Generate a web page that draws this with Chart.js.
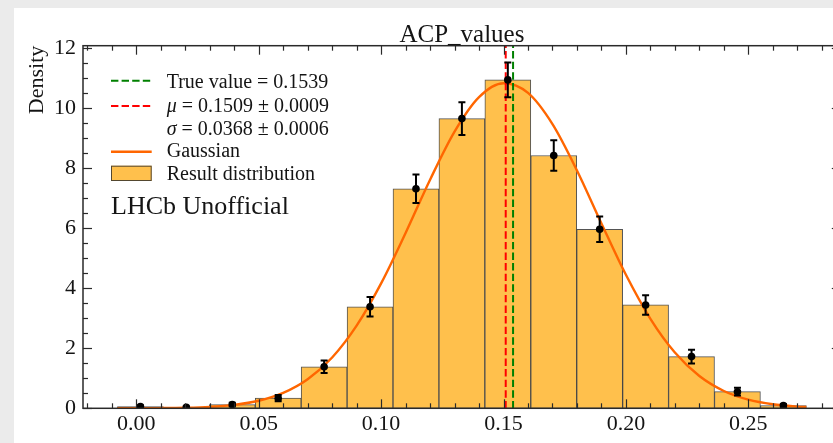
<!DOCTYPE html>
<html><head><meta charset="utf-8">
<script src="https://cdn.jsdelivr.net/npm/chart.js@4.4.1/dist/chart.umd.min.js"></script>
<style>
html,body{margin:0;padding:0;background:#ebebeb;overflow:hidden;width:833px;height:443px;}
#wrap{position:absolute;left:14px;top:8px;width:846px;height:435px;background:#fff;}
canvas{display:block;}
</style></head><body>
<div id="wrap"><canvas id="c" width="846" height="435"></canvas></div>
<script>
// ---- data ----
const binCenters = [0.00168, 0.02044, 0.03920, 0.05796, 0.07672, 0.09548, 0.11424, 0.13300, 0.15176, 0.17052, 0.18928, 0.20804, 0.22680, 0.24556, 0.26432];
const density    = [0.0615, 0.031, 0.123, 0.338, 1.385, 3.385, 7.32, 9.66, 10.95, 8.43, 5.97, 3.446, 1.723, 0.554, 0.092];
const densityErr = [0.0435, 0.031, 0.062, 0.102, 0.206, 0.323, 0.475, 0.545, 0.58, 0.509, 0.429, 0.326, 0.23, 0.13, 0.053];
const curveX = [-0.0077, 0.00, 0.01, 0.02, 0.03, 0.04, 0.05, 0.06, 0.07, 0.08, 0.09, 0.10, 0.11, 0.12, 0.13, 0.14, 0.15, 0.16, 0.17, 0.18, 0.19, 0.20, 0.21, 0.22, 0.23, 0.24, 0.25, 0.26, 0.27, 0.2737];
const curveY = [0.0010, 0.0024, 0.0071, 0.0194, 0.0491, 0.1156, 0.2528, 0.5129, 0.9673, 1.6943, 2.7566, 4.165, 5.846, 7.621, 9.226, 10.376, 10.838, 10.515, 9.475, 7.931, 6.165, 4.451, 2.985, 1.860, 1.076, 0.578, 0.2886, 0.1338, 0.0576, 0.0414];
const trueValue = 0.1539;
const muValue = 0.1509, muErr = 0.0009;
const sigmaValue = 0.0368, sigmaErr = 0.0006;
const xTicks = [0, 0.05, 0.10, 0.15, 0.20, 0.25];
const yTicks = [0, 2, 4, 6, 8, 10, 12];
const xLimits = [-0.02177, 0.28777];
const yLimits = [0, 12.09];
const chartTitle = 'ACP_values';
const yTitle = 'Density';
const legendTexts = ['True value = ' + trueValue.toFixed(4),
  ' = ' + muValue.toFixed(4) + ' \u00b1 ' + muErr.toFixed(4),
  ' = ' + sigmaValue.toFixed(4) + ' \u00b1 ' + sigmaErr.toFixed(4),
  'Gaussian', 'Result distribution'];
const watermark = 'LHCb Unofficial';

const SERIF = '"Liberation Serif", "DejaVu Serif", serif';
const BAR_FILL = '#ffc04c', BAR_EDGE = 'rgba(40,40,40,0.8)', CURVE = '#ff6600';
const TXT = '#141414', AX = '#2a2a2a';

const overlay = {
  id: 'overlay',
  afterDatasetsDraw(chart) {
    const {ctx, scales: {x, y}, chartArea: a} = chart;
    ctx.save();
    ctx.beginPath(); ctx.rect(a.left, a.top, a.right - a.left, a.bottom - a.top); ctx.clip();
    ctx.strokeStyle = '#000'; ctx.lineWidth = 2;
    binCenters.forEach((c, i) => {
      const px = x.getPixelForValue(c);
      const y1 = y.getPixelForValue(density[i] - densityErr[i]);
      const y2 = y.getPixelForValue(density[i] + densityErr[i]);
      ctx.beginPath();
      ctx.moveTo(px, y1); ctx.lineTo(px, y2);
      ctx.moveTo(px - 3.5, y1); ctx.lineTo(px + 3.5, y1);
      ctx.moveTo(px - 3.5, y2); ctx.lineTo(px + 3.5, y2);
      ctx.stroke();
    });
    ctx.restore();
  },
  afterDraw(chart) {
    const {ctx, scales: {x, y}, chartArea: a} = chart;
    ctx.save();
    // ticks (inward, all four sides)
    ctx.strokeStyle = AX; ctx.lineWidth = 1.2;
    const seg = (x1, y1, x2, y2) => { ctx.beginPath(); ctx.moveTo(x1, y1); ctx.lineTo(x2, y2); ctx.stroke(); };
    const xt = (v, len) => { const p = Math.round(x.getPixelForValue(v)) + 0.5; if (p < a.left || p > a.right) return; seg(p, a.bottom, p, a.bottom - len); seg(p, a.top, p, a.top + len); };
    const yt = (v, len) => { const p = Math.round(y.getPixelForValue(v)) + 0.5; if (p < a.top - 0.5 || p > a.bottom + 0.5) return; seg(a.left, p, a.left + len, p); seg(a.right, p, a.right - len, p); };
    for (let k = Math.ceil(xLimits[0] * 100); k <= Math.floor(xLimits[1] * 100); k++) {
      if (k % 5 !== 0) xt(k / 100, 5);
    }
    xTicks.forEach(v => xt(v, 9));
    for (let k = 0; k <= Math.floor(yLimits[1] * 2); k++) {
      if (k % 4 !== 0) yt(k / 2, 5);
    }
    yTicks.forEach(v => yt(v, 9));
    // frame
    ctx.lineWidth = 1.5; ctx.strokeStyle = AX;
    ctx.strokeRect(a.left, a.top, a.right - a.left, a.bottom - a.top);
    // title
    ctx.fillStyle = TXT; ctx.textAlign = 'center'; ctx.textBaseline = 'alphabetic';
    ctx.font = '25px ' + SERIF;
    ctx.fillText(chartTitle, (a.left + a.right) / 2, 33.7);
    // legend
    const hx0 = 97, hx1 = 137.7, tx = 152.7;
    ctx.lineWidth = 2;
    ctx.setLineDash([7.4, 3.2]);
    ctx.strokeStyle = 'green'; seg(hx0, 72.7, hx1, 72.7);
    ctx.strokeStyle = 'red'; seg(hx0, 98, hx1, 98);
    ctx.setLineDash([]);
    ctx.strokeStyle = CURVE; ctx.lineWidth = 2.4; seg(hx0, 143.7, hx1, 143.7);
    ctx.fillStyle = BAR_FILL; ctx.fillRect(hx0, 157.7, hx1 - hx0, 15.3);
    ctx.strokeStyle = BAR_EDGE; ctx.lineWidth = 1; ctx.strokeRect(hx0 + 0.5, 157.7 + 0.5, hx1 - hx0 - 1, 15.3 - 1);
    ctx.fillStyle = TXT; ctx.textAlign = 'left';
    ctx.font = '20px ' + SERIF;
    ctx.fillText(legendTexts[0], tx, 80.3);
    ctx.font = 'italic 20px ' + SERIF;
    ctx.fillText('\u03bc', tx, 103.7);
    let w = ctx.measureText('\u03bc').width;
    ctx.font = '20px ' + SERIF;
    ctx.fillText(legendTexts[1], tx + w, 103.7);
    ctx.font = 'italic 20px ' + SERIF;
    ctx.fillText('\u03c3', tx, 127);
    w = ctx.measureText('\u03c3').width;
    ctx.font = '20px ' + SERIF;
    ctx.fillText(legendTexts[2], tx + w, 127);
    ctx.fillText(legendTexts[3], tx, 149.3);
    ctx.fillText(legendTexts[4], tx, 172);
    ctx.font = '26px ' + SERIF;
    ctx.fillText(watermark, 97, 205.8);
    ctx.restore();
  }
};

new Chart(document.getElementById('c'), {
  type: 'bar',
  data: {
    datasets: [
      { type: 'line', label: 'points', data: binCenters.map((c, i) => ({x: c, y: density[i]})),
        showLine: false, pointRadius: 3.8, pointBackgroundColor: '#000', pointBorderWidth: 0, order: 0 },
      { type: 'line', label: 'True value', data: [{x: trueValue, y: yLimits[0]}, {x: trueValue, y: yLimits[1]}],
        borderColor: 'green', borderWidth: 2, borderDash: [7.4, 3.2], pointRadius: 0, order: 1 },
      { type: 'line', label: 'mu', data: [{x: muValue, y: yLimits[0]}, {x: muValue, y: yLimits[1]}],
        borderColor: 'red', borderWidth: 2, borderDash: [7.4, 3.2], pointRadius: 0, order: 1 },
      { type: 'line', label: 'Gaussian', data: curveX.map((v, i) => ({x: v, y: curveY[i]})),
        borderColor: CURVE, borderWidth: 2.4, pointRadius: 0, cubicInterpolationMode: 'monotone', order: 2 },
      { type: 'bar', label: 'Result distribution', data: binCenters.map((c, i) => ({x: c, y: density[i]})),
        backgroundColor: BAR_FILL, borderColor: BAR_EDGE, borderWidth: 1, borderSkipped: false,
        barPercentage: 1, categoryPercentage: 1, order: 3 }
    ]
  },
  options: {
    responsive: false, animation: false, devicePixelRatio: 1,
    layout: { padding: { left: 0, top: 37.7, right: 19.2, bottom: 0 } },
    plugins: { legend: { display: false }, tooltip: { enabled: false }, title: { display: false } },
    scales: {
      x: {
        type: 'linear', min: xLimits[0], max: xLimits[1], offset: false,
        grid: { display: false, drawTicks: false, offset: false }, border: { display: false },
        afterBuildTicks: s => { s.ticks = xTicks.map(v => ({value: v})); },
        afterFit: s => { s.height = 34.7; },
        ticks: { padding: 3, color: TXT, font: { family: SERIF, size: 22 }, maxRotation: 0,
          callback: v => Number(v).toFixed(2) }
      },
      y: {
        type: 'linear', min: yLimits[0], max: yLimits[1],
        grid: { display: false, drawTicks: false }, border: { display: false },
        afterBuildTicks: s => { s.ticks = yTicks.map(v => ({value: v})); },
        afterFit: s => { s.width = 69; },
        ticks: { padding: 7, color: TXT, font: { family: SERIF, size: 22 }, callback: v => String(v) },
        title: { display: true, text: yTitle, align: 'end', color: TXT,
          font: { family: SERIF, size: 22, lineHeight: 1 }, padding: { top: 12, bottom: 0 } }
      }
    }
  },
  plugins: [overlay]
});
</script>
</body></html>
